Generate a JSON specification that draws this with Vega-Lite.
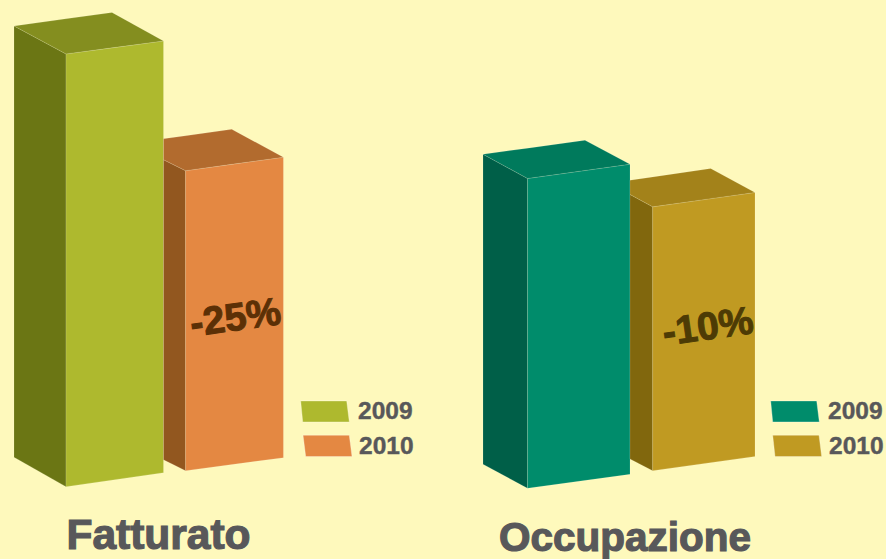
{
"$schema":"https://vega.github.io/schema/vega-lite/v6.json",
"width":886,"height":559,"padding":0,
"autosize":{"type":"fit","contains":"padding"},
"background":"#FEF9BC",
"view":{"stroke":null},
"datasets":{
"faces":[
{"face":"F2009 side","x":14,"top":26,"bottom":458},{"face":"F2009 side","x":66,"top":54,"bottom":487.5},
{"face":"F2009 front","x":66,"top":54,"bottom":487.5},{"face":"F2009 front","x":163.5,"top":41,"bottom":473.5},
{"face":"F2009 cap","x":14,"top":26,"bottom":26},{"face":"F2009 cap","x":66,"top":18.8,"bottom":54},{"face":"F2009 cap","x":112,"top":12.5,"bottom":47.9},{"face":"F2009 cap","x":163.5,"top":41,"bottom":41},
{"face":"F2010 side","x":163.5,"top":160,"bottom":460.5},{"face":"F2010 side","x":185.6,"top":171,"bottom":471.5},
{"face":"F2010 front","x":185.6,"top":171,"bottom":471.5},{"face":"F2010 front","x":283.4,"top":157.5,"bottom":458.5},
{"face":"F2010 cap","x":163.5,"top":139,"bottom":160},{"face":"F2010 cap","x":185.6,"top":136,"bottom":171},{"face":"F2010 cap","x":231.7,"top":129.5,"bottom":164.6},{"face":"F2010 cap","x":283.4,"top":157.5,"bottom":157.5},
{"face":"O2009 side","x":483,"top":154.5,"bottom":465},{"face":"O2009 side","x":527.5,"top":178.8,"bottom":489.2},
{"face":"O2009 front","x":527.5,"top":178.8,"bottom":489.2},{"face":"O2009 front","x":630,"top":164.5,"bottom":475.2},
{"face":"O2009 cap","x":483,"top":154.5,"bottom":154.5},{"face":"O2009 cap","x":527.5,"top":148.4,"bottom":178.8},{"face":"O2009 cap","x":585,"top":140.5,"bottom":170.8},{"face":"O2009 cap","x":630,"top":164.5,"bottom":164.5},
{"face":"O2010 side","x":630,"top":194.8,"bottom":459.8},{"face":"O2010 side","x":652.7,"top":207.2,"bottom":471.5},
{"face":"O2010 front","x":652.7,"top":207.2,"bottom":471.5},{"face":"O2010 front","x":755,"top":192.8,"bottom":457.2},
{"face":"O2010 cap","x":630,"top":180.5,"bottom":194.8},{"face":"O2010 cap","x":652.7,"top":177.2,"bottom":207.2},{"face":"O2010 cap","x":710.7,"top":168.8,"bottom":199},{"face":"O2010 cap","x":755,"top":192.8,"bottom":192.8}
],
"swatches":[
{"face":"F2009 front","id":"a","y":401.7,"left":300.7,"right":346.7},{"face":"F2009 front","id":"a","y":422.7,"left":302.7,"right":349.3},
{"face":"F2010 front","id":"b","y":436,"left":303,"right":349.3},{"face":"F2010 front","id":"b","y":457.3,"left":305.7,"right":352},
{"face":"O2009 front","id":"c","y":401.7,"left":770.7,"right":816.7},{"face":"O2009 front","id":"c","y":422.7,"left":772.7,"right":819.3},
{"face":"O2010 front","id":"d","y":436,"left":772.7,"right":819},{"face":"O2010 front","id":"d","y":457.3,"left":775,"right":821.7}
]
},
"layer":[
{"data":{"name":"faces"},
 "mark":{"type":"area","stroke":"#FFFFFF","strokeOpacity":0.22,"strokeWidth":0.6},
 "encoding":{
  "x":{"field":"x","type":"quantitative","scale":{"domain":[0,886],"nice":false,"zero":false},"axis":null},
  "y":{"field":"top","type":"quantitative","scale":{"domain":[559,0],"nice":false,"zero":false},"axis":null},
  "y2":{"field":"bottom"},
  "color":{"field":"face","type":"nominal","legend":null,"scale":{
   "domain":["F2009 side","F2009 front","F2009 cap","F2010 side","F2010 front","F2010 cap","O2009 side","O2009 front","O2009 cap","O2010 side","O2010 front","O2010 cap","F text","O text"],
   "range":["#6B7614","#AEB92E","#848E1F","#92571F","#E48842","#B26B2E","#005F48","#008C6B","#007A5C","#81670D","#C09A22","#A3821A","#5C3006","#4D3B05"]}}
 }},
{"data":{"name":"swatches"},
 "mark":{"type":"area","stroke":"#FFFFFF","strokeOpacity":0.3,"strokeWidth":1},
 "encoding":{
  "y":{"field":"y","type":"quantitative"},
  "x":{"field":"left","type":"quantitative"},
  "x2":{"field":"right"},
  "detail":{"field":"id"},
  "color":{"field":"face","type":"nominal","legend":null}
 }},
{"data":{"values":[{"label":"2009","x":358,"y":420},{"label":"2010","x":359,"y":455},{"label":"2009","x":828,"y":420},{"label":"2010","x":829,"y":455}]},
 "mark":{"type":"text","font":"Liberation Sans","fontWeight":"bold","fontSize":24.5,"align":"left","baseline":"alphabetic","fill":"#58585A","stroke":"#58585A","strokeWidth":0.4},
 "encoding":{"x":{"field":"x","type":"quantitative"},"y":{"field":"y","type":"quantitative"},"text":{"field":"label"}}},
{"data":{"values":[{"label":"Fatturato","x":158.5,"y":550}]},
 "mark":{"type":"text","font":"Liberation Sans","fontWeight":"bold","fontSize":42.5,"align":"center","baseline":"alphabetic","fill":"#58585A","stroke":"#58585A","strokeWidth":1.2},
 "encoding":{"x":{"field":"x","type":"quantitative"},"y":{"field":"y","type":"quantitative"},"text":{"field":"label"}}},
{"data":{"values":[{"label":"Occupazione","x":625,"y":551.5}]},
 "mark":{"type":"text","font":"Liberation Sans","fontWeight":"bold","fontSize":40.5,"align":"center","baseline":"alphabetic","fill":"#58585A","stroke":"#58585A","strokeWidth":1.2},
 "encoding":{"x":{"field":"x","type":"quantitative"},"y":{"field":"y","type":"quantitative"},"text":{"field":"label"}}},
{"data":{"values":[{"label":"-25%","x":235.5,"y":319,"c":"F text"},{"label":"-10%","x":708,"y":328,"c":"O text"}]},
 "mark":{"type":"text","font":"Liberation Sans","fontWeight":"bold","fontSize":39,"align":"center","baseline":"middle","angle":-8,"strokeWidth":1},
 "encoding":{"x":{"field":"x","type":"quantitative"},"y":{"field":"y","type":"quantitative"},"text":{"field":"label"},
  "color":{"field":"c","type":"nominal","legend":null},
  "stroke":{"field":"c","type":"nominal","legend":null,"scale":{"domain":["F text","O text"],"range":["#5C3006","#4D3B05"]}}}}
]
}
